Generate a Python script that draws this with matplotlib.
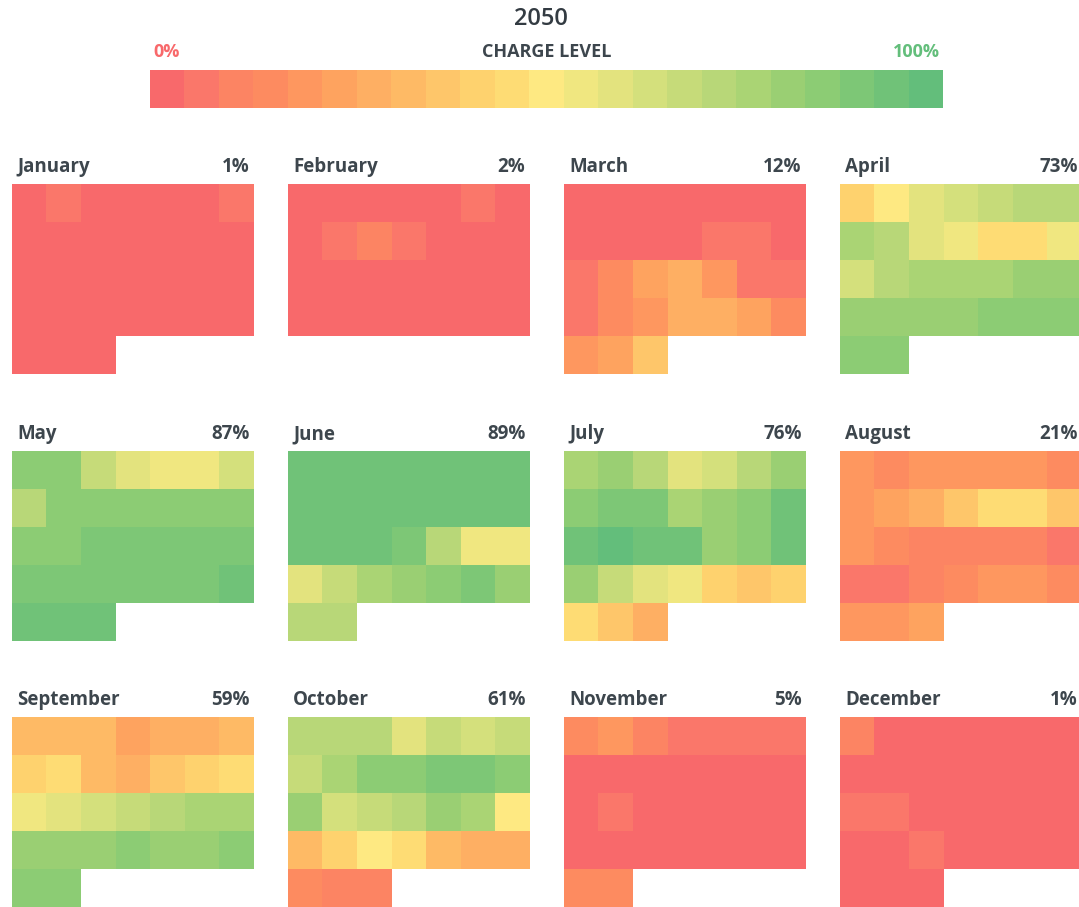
import numpy as np
import matplotlib
matplotlib.use("Agg")
import matplotlib.pyplot as plt
from matplotlib.colors import ListedColormap, BoundaryNorm
from matplotlib.cm import ScalarMappable

plt.rcParams['font.family'] = ['Open Sans', 'DejaVu Sans']

year = "2050"
months = ["January", "February", "March", "April", "May", "June",
          "July", "August", "September", "October", "November", "December"]
month_avg = [1, 2, 12, 73, 87, 89, 76, 21, 59, 61, 5, 1]

jan = [1, 5, 1, 1, 1, 1, 5,
       1, 1, 1, 1, 1, 1, 1,
       1, 1, 1, 1, 1, 1, 1,
       1, 1, 1, 1, 1, 1, 1,
       1, 1, 1]
feb = [1, 1, 1, 1, 1, 5, 1,
       1, 5, 9, 5, 1, 1, 1,
       1, 1, 1, 1, 1, 1, 1,
       1, 1, 1, 1, 1, 1, 1]
mar = [1, 1, 1, 1, 1, 1, 1,
       1, 1, 1, 1, 5, 5, 1,
       5, 14, 23, 27, 18, 5, 5,
       5, 14, 18, 27, 27, 23, 14,
       18, 23, 36]
apr = [41, 50, 59, 64, 68, 73, 73,
       77, 73, 59, 55, 45, 45, 55,
       64, 73, 77, 77, 77, 82, 82,
       82, 82, 82, 82, 86, 86, 86,
       86, 86]
may = [86, 86, 68, 59, 55, 55, 64,
       73, 86, 86, 86, 86, 86, 86,
       86, 86, 91, 91, 91, 91, 91,
       91, 91, 91, 91, 91, 91, 95,
       95, 95, 95]
jun = [95, 95, 95, 95, 95, 95, 95,
       95, 95, 95, 95, 95, 95, 95,
       95, 95, 95, 91, 73, 55, 55,
       59, 68, 77, 82, 86, 91, 82,
       73, 73]
jul = [77, 82, 73, 59, 64, 73, 82,
       86, 91, 91, 77, 82, 86, 95,
       95, 100, 95, 95, 82, 86, 95,
       82, 68, 59, 55, 41, 36, 41,
       45, 36, 27]
aug = [18, 14, 18, 18, 18, 18, 14,
       18, 23, 27, 36, 45, 45, 36,
       18, 14, 9, 9, 9, 9, 5,
       5, 5, 9, 14, 18, 18, 14,
       18, 18, 23]
sep = [32, 32, 32, 23, 27, 27, 32,
       41, 45, 32, 27, 36, 41, 45,
       55, 59, 64, 68, 73, 77, 77,
       82, 82, 82, 86, 82, 82, 86,
       86, 86]
oct_ = [73, 73, 73, 59, 68, 64, 68,
        68, 77, 86, 86, 91, 91, 86,
        82, 64, 68, 73, 82, 77, 50,
        32, 41, 50, 45, 32, 27, 27,
        14, 9, 9]
nov = [14, 18, 9, 5, 5, 5, 5,
       1, 1, 1, 1, 1, 1, 1,
       1, 5, 1, 1, 1, 1, 1,
       1, 1, 1, 1, 1, 1, 1,
       14, 14]
dec = [9, 1, 1, 1, 1, 1, 1,
       1, 1, 1, 1, 1, 1, 1,
       5, 5, 1, 1, 1, 1, 1,
       1, 1, 5, 1, 1, 1, 1,
       1, 1, 1]
daily = [jan, feb, mar, apr, may, jun, jul, aug, sep, oct_, nov, dec]

# 23-step red-yellow-green scale as shown in the legend
palette = ["#F8696B", "#FA776A", "#FC8463", "#FD8B60", "#FE975F", "#FEA35F",
           "#FEAF63", "#FEBA65", "#FEC66A", "#FED26E", "#FEDC74", "#FEE982",
           "#F0E780", "#E3E37E", "#D4E07C", "#C6DB79", "#B8D778", "#AAD474",
           "#9ACF73", "#8CCC74", "#7DC776", "#70C278", "#63BE7B"]
n_steps = len(palette)
cmap = ListedColormap(palette)
cmap.set_bad((1, 1, 1, 0))
norm = BoundaryNorm(np.linspace(0, 100, n_steps + 1), n_steps, clip=True)

W, H = 1079, 907
fig = plt.figure(figsize=(W / 100, H / 100), dpi=100)
fig.patch.set_facecolor("white")


def px_axes(x, y, w, h):
    # pixel box (top-left origin) -> figure axes
    return fig.add_axes([x / W, 1 - (y + h) / H, w / W, h / H])


txt_col = "#3d464d"

# header
fig.text(541 / W, 1 - 19 / H, year, ha="center", va="center", fontsize=17,
         fontweight="semibold", color="#333b42")
fig.text(547 / W, 1 - 52 / H, "CHARGE LEVEL", ha="center", va="center",
         fontsize=13, fontweight="bold", color=txt_col)
fig.text(153 / W, 1 - 52 / H, "0%", ha="left", va="center",
         fontsize=13, fontweight="bold", color="#F8696B")
fig.text(940 / W, 1 - 52 / H, "100%", ha="right", va="center",
         fontsize=13, fontweight="bold", color="#63BE7B")

cax = px_axes(150, 70, 793, 38)
cb = fig.colorbar(ScalarMappable(norm=norm, cmap=cmap), cax=cax, orientation="horizontal")
cb.set_ticks([])
cb.minorticks_off()
cax.tick_params(which="both", length=0, labelbottom=False)
cb.outline.set_visible(False)

cell_w, cell_h = 34.5, 38
col_x = [12, 288, 564, 840]
row_y = [184, 451, 717]

for i, (name, vals) in enumerate(zip(months, daily)):
    x0 = col_x[i % 4]
    y0 = row_y[i // 4]
    grid = np.full(35, np.nan)
    grid[:len(vals)] = vals
    grid = np.ma.masked_invalid(grid.reshape(5, 7))

    ax = px_axes(x0, y0, 7 * cell_w, 5 * cell_h)
    ax.imshow(grid, cmap=cmap, norm=norm, aspect="auto", interpolation="nearest")
    ax.set_axis_off()

    fig.text((x0 + 5) / W, 1 - (y0 - 17) / H, name, ha="left", va="center",
             fontsize=13.5, fontweight="bold", color=txt_col)
    fig.text((x0 + 7 * cell_w - 4) / W, 1 - (y0 - 17) / H, f"{month_avg[i]}%",
             ha="right", va="center", fontsize=13.5, fontweight="bold", color=txt_col)

fig.savefig("out.png", dpi=100)
